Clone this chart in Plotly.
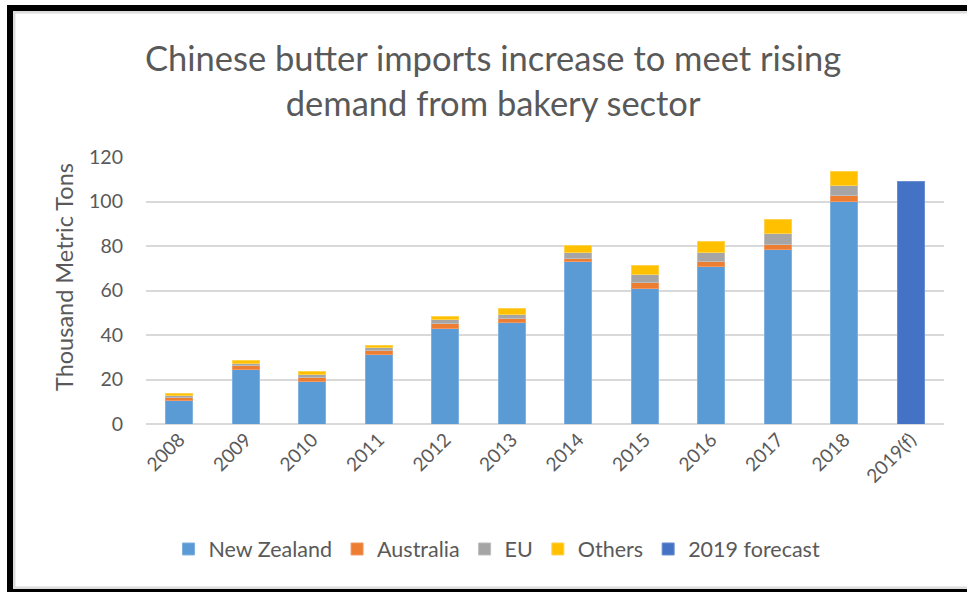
import plotly.graph_objects as go

years = ["2008", "2009", "2010", "2011", "2012", "2013", "2014", "2015",
         "2016", "2017", "2018", "2019(f)"]
new_zealand = [10.5, 24.6, 19.3, 31.3, 42.7, 45.8, 72.9, 60.7, 70.6, 78.5, 100.2, None]
australia = [1.5, 1.6, 1.8, 1.8, 2.4, 1.8, 1.7, 3.0, 2.3, 2.4, 2.3, None]
eu = [0.7, 1.2, 1.1, 1.2, 1.8, 1.7, 2.3, 3.4, 4.0, 4.6, 4.5, None]
others = [0.9, 1.2, 1.2, 1.2, 1.2, 2.8, 3.4, 4.2, 5.2, 6.6, 6.7, None]
forecast = [None] * 11 + [109.2]

series = [
    ("New Zealand", new_zealand, "#5B9BD5", "#7FB1DF"),
    ("Australia", australia, "#ED7D31", "#F19A63"),
    ("EU", eu, "#A5A5A5", "#BDBDBD"),
    ("Others", others, "#FFC000", "#FFD24D"),
    ("2019 forecast", forecast, "#4472C4", "#6A8FD0"),
]

FONT = "Lato"
GREY = "#595959"

fig = go.Figure()
for name, vals, col, edge in series:
    fig.add_trace(go.Bar(
        x=years, y=vals, name=name,
        marker=dict(color=col, line=dict(color=edge, width=1)),
    ))

W, H = 967, 592
L, R, T, B = 146, 23, 157, 168
pw, ph = W - L - R, H - T - B


def px(x):
    return (x - L) / pw


def py(y):
    return (H - B - y) / ph


def rect(x0, y0, x1, y1, color):
    return dict(type="rect", xref="paper", yref="paper",
                x0=px(x0), x1=px(x1), y0=py(y1), y1=py(y0),
                fillcolor=color, line=dict(width=0), layer="above")


shapes = [
    rect(13, 11, 967, 13.5, "#DCDCDC"),
    rect(13, 11, 15.5, 589, "#DCDCDC"),
    rect(13, 586.5, 967, 589, "#DCDCDC"),
    rect(7, 5, 967, 11, "#000000"),
    rect(7, 5, 13, 592, "#000000"),
    rect(7, 589, 967, 592, "#000000"),
]

fig.update_layout(
    width=W, height=H,
    margin=dict(l=L, r=R, t=T, b=B, pad=0),
    barmode="stack",
    bargap=0.59,
    paper_bgcolor="white",
    plot_bgcolor="white",
    font=dict(family=FONT, color=GREY, size=19),
    xaxis=dict(
        tickangle=-45,
        tickfont=dict(size=19, color=GREY),
        showgrid=False,
        showline=False,
        ticks="",
    ),
    yaxis=dict(
        range=[0, 120],
        dtick=20,
        showgrid=True,
        gridcolor="#D9D9D9",
        gridwidth=1.5,
        zeroline=True,
        zerolinecolor="#D9D9D9",
        zerolinewidth=1.5,
        tickfont=dict(size=19.5, color=GREY),
        ticklabelstandoff=22,
    ),
    legend=dict(
        orientation="h",
        x=px(497), xanchor="center",
        y=py(549), yanchor="middle",
        font=dict(size=21.5, color=GREY),
        itemwidth=30,
        traceorder="normal",
    ),
    shapes=shapes,
    annotations=[
        dict(text="Chinese butter imports increase to meet rising<br>demand from bakery sector",
             xref="paper", yref="paper", x=px(493), y=py(80),
             xanchor="center", yanchor="middle", showarrow=False,
             font=dict(family=FONT, size=34.5, color=GREY)),
        dict(text="Thousand Metric Tons", textangle=-90,
             xref="paper", yref="paper", x=px(64), y=py(277),
             xanchor="center", yanchor="middle", showarrow=False,
             font=dict(family=FONT, size=23.5, color=GREY)),
    ],
)

fig.write_html("out.html")
